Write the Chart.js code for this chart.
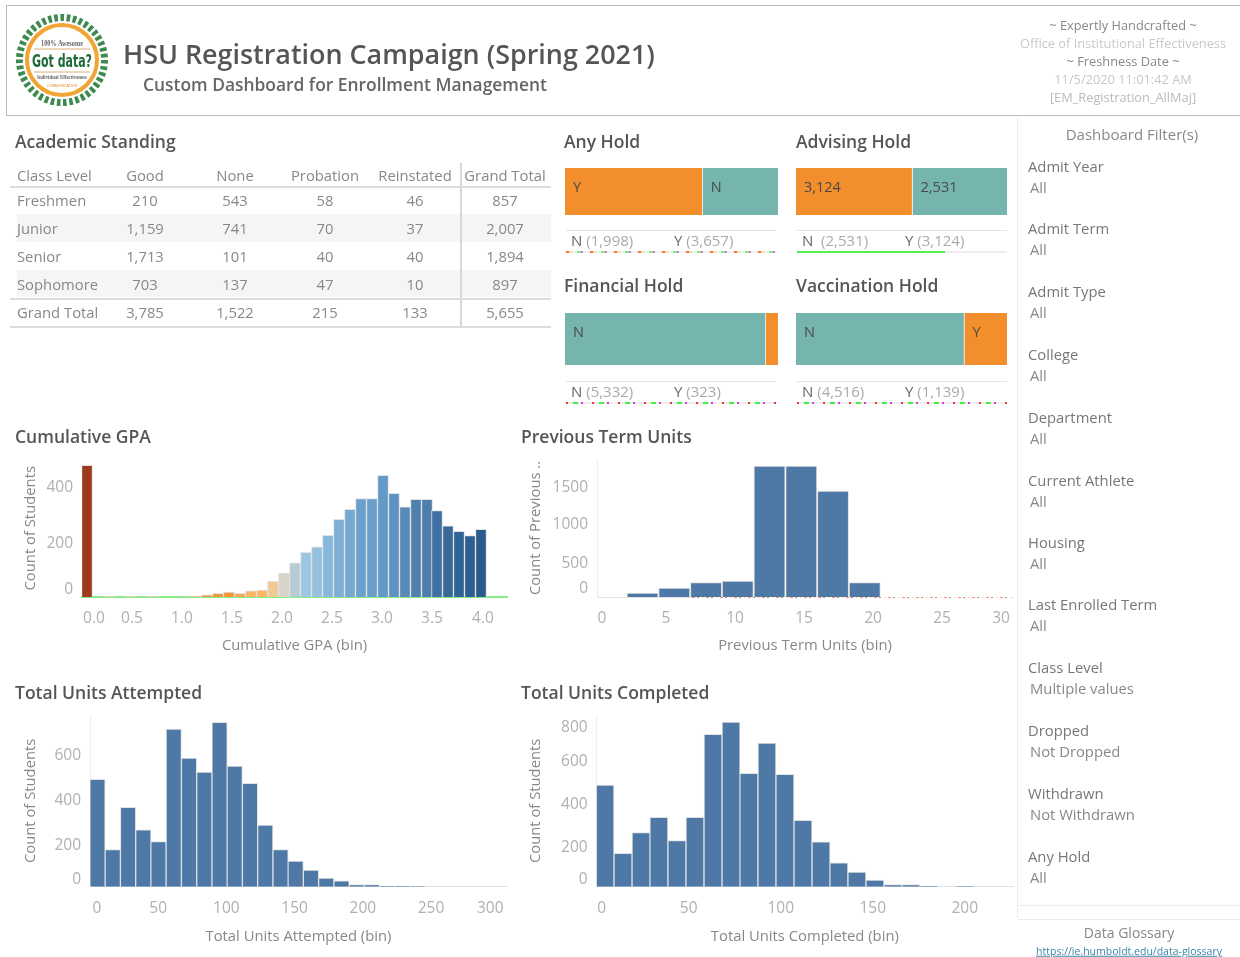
<!DOCTYPE html>
<html><head><meta charset="utf-8">
<script src="https://cdn.jsdelivr.net/npm/chart.js@4"></script>
<style>
html,body{margin:0;padding:0;background:#fff;width:1240px;height:957px;overflow:hidden}
#app{position:relative;width:1240px;height:957px;font-family:"Open Sans",sans-serif;color:#777;filter:blur(.35px)}
#app>*{position:absolute}
.t{white-space:nowrap;line-height:1;transform:translateY(-50%)}
.c{transform:translate(-50%,-50%)}
.h{font-size:17.5px;font-weight:600;color:#555}
.f{font-size:14.8px;color:#777}
.v{font-size:14.8px;color:#888}
.m{font-size:15px;color:#666}.m i{font-style:normal;color:#aaa}
.line{background:#ddd}
canvas{display:block}
</style></head><body><div id="app"></div>
<script>
// ---------- data ----------
const tableColumns=['Class Level','Good','None','Probation','Reinstated','Grand Total'];
const tableFreshmen=['Freshmen','210','543','58','46','857'];
const tableJunior=['Junior','1,159','741','70','37','2,007'];
const tableSenior=['Senior','1,713','101','40','40','1,894'];
const tableSophomore=['Sophomore','703','137','47','10','897'];
const tableTotal=['Grand Total','3,785','1,522','215','133','5,655'];

const holdTotal=5655;
const anyHold=[3657,1998], anyHoldColors=['#f28e2b','#76b4ae'], anyHoldText=['Y','N'];
const advisingHold=[3124,2531], advisingHoldColors=['#f28e2b','#76b4ae'], advisingHoldText=['3,124','2,531'];
const financialHold=[5332,323], financialHoldColors=['#76b4ae','#f28e2b'], financialHoldText=['N',''];
const vaccinationHold=[4516,1139], vaccinationHoldColors=['#76b4ae','#f28e2b'], vaccinationHoldText=['N','Y'];

const gpaBins=[0.05,0.16,0.27,0.38,0.49,0.6,0.71,0.82,0.93,1.04,1.15,1.25,1.36,1.47,1.58,1.69,1.8,1.91,2.02,2.13,2.24,2.35,2.46,2.57,2.68,2.79,2.9,3.01,3.12,3.23,3.34,3.45,3.55,3.66,3.77,3.88,3.99];
const gpaCounts=[479,0,2,0,2,0,2,0,0,1,2,8,13,18,13,22,25,57,87,124,162,182,224,282,319,358,358,442,377,328,355,355,314,259,239,223,246];
const gpaColors=['#9c3a1d','#f5c08a','#f5c08a','#f5c08a','#f5c08a','#f5c08a','#f5c08a','#f5c08a','#f5c08a','#f5c08a','#f5a860','#f4953a','#f4953a','#f4953a','#f8a850','#fbb464','#fbb464','#f0c994','#d6d3c8','#b8ccd6','#9cc6e2','#95c1df','#85b8dc','#7cafd6','#76a9d2','#6ca0cc','#6a9ecb','#6399c7','#5d92c1','#588ab8','#4f80ae','#4e7eab','#3e70a3','#376a9b','#316496','#2e5f92','#2b5b8c'];
const gpaTicks=[0,0.5,1,1.5,2,2.5,3,3.5,4], gpaTickLabels=['0.0','0.5','1.0','1.5','2.0','2.5','3.0','3.5','4.0'];
const gpaYTicks=[0,200,400];

const prevBins=[3.3,5.6,7.9,10.2,12.5,14.8,17.1,19.4];
const prevCounts=[54,122,195,218,1782,1782,1442,195];
const prevTicks=[0,5,10,15,20,25,30];
const prevYTicks=[0,500,1000,1500];

const attemptedBins=[5.5,16.7,27.9,39.1,50.2,61.4,72.6,83.8,95,106.1,117.3,128.5,139.7,150.8,162,173.2,184.4,195.5,206.7,217.9,229,240.2];
const attemptedCounts=[484,167,358,256,203,711,580,517,741,544,466,278,167,116,75,39,26,9,9,3,3,2];
const attemptedTicks=[0,50,100,150,200,250,300];
const attemptedYTicks=[0,200,400,600];

const completedBins=[4.5,14.3,24.1,33.8,43.6,53.4,63.2,73,82.7,92.5,102.3,112.1,121.9,131.6,141.4,151.2,161,170.8,180.5,200.1];
const completedCounts=[484,159,257,330,219,330,725,783,540,683,535,316,213,113,70,32,10,10,3,2];
const completedTicks=[0,50,100,150,200];
const completedYTicks=[0,200,400,600,800];

const filterNames=['Admit Year','Admit Term','Admit Type','College','Department','Current Athlete','Housing','Last Enrolled Term','Class Level','Dropped','Withdrawn','Any Hold'];
const filterValues=['All','All','All','All','All','All','All','All','Multiple values','Not Dropped','Not Withdrawn','All'];

// ---------- helpers ----------
const app=document.getElementById('app');
function text(s,x,y,cls,center,extra){const d=document.createElement('div');d.className='t '+(center?'c ':'')+(cls||'');d.textContent=s;d.style.left=x+'px';d.style.top=y+'px';if(extra)d.style.cssText+=extra;app.appendChild(d);return d}
function box(x,y,w,h,css){const d=document.createElement('div');d.style.cssText=`left:${x}px;top:${y}px;width:${w}px;height:${h}px;${css||'background:#ddd'}`;app.appendChild(d);return d}
function canvasAt(l,t,w,h){const c=document.createElement('canvas');c.width=w;c.height=h;c.style.cssText=`left:${l}px;top:${t}px;width:${w}px;height:${h}px`;app.appendChild(c);return c}
Chart.defaults.font.family='"Open Sans",sans-serif';

function hist(o){
  const {l,r,pl,pt,pr,pb,t,b}=o;
  const c=canvasAt(l,t,r-l,b-t);
  const nudge=(vals,px,pxPerUnit)=>vals.map((v,i)=>({value:v+(px[i]||0)/pxPerUnit}));
  new Chart(c,{type:'bar',
    data:{labels:o.bins,datasets:[{data:o.bins.map((x,i)=>({x,y:o.counts[i]})),backgroundColor:o.colors||'#4e79a7',borderColor:'rgba(222,222,222,.9)',borderWidth:1,barThickness:o.bw,grouped:false}]},
    options:{responsive:false,animation:false,parsing:false,
      layout:{padding:{top:pt-t,right:r-pr,left:0,bottom:0}},
      plugins:{legend:{display:false},tooltip:{enabled:false}},
      scales:{
        x:{type:'linear',min:0,max:o.xMax,offset:false,
          grid:{display:false,drawTicks:false},border:{display:true,color:o.xBorder||'#e2e2e2',width:o.xBorderW||1},
          afterBuildTicks(s){s.ticks=nudge(o.xTicks,o.xNudge||[],(pr-pl)/o.xMax)},
          afterFit(s){s.height=b-pb;s.paddingLeft=0;s.paddingRight=0},
          ticks:{autoSkip:false,maxRotation:0,minRotation:0,padding:o.tickPad,color:'#b0b0b0',font:{size:15.5},callback:(v,i)=>(o.xLabels||o.xTicks)[i]},
          title:{display:true,text:o.xTitle,color:'#888',font:{size:14.8},padding:0}},
        y:{min:0,max:o.yMax,
          grid:{display:false,drawTicks:false},border:{display:!!o.yBorder,color:'#eeeeee',width:1},
          afterBuildTicks(s){s.ticks=nudge(o.yTicks,o.yNudge||[],(pb-pt)/o.yMax)},
          afterFit(s){s.width=pl-l;s.paddingTop=0;s.paddingBottom=0},
          ticks:{autoSkip:false,padding:9,color:'#b0b0b0',font:{size:15.5},callback:(v,i)=>o.yTicks[i]},
          title:{display:true,text:o.yTitle,color:'#888',font:{size:14.8},padding:0}}
      }}});
}
function holdBar(l,t,w,h,vals,cols,txt,lift){
  const c=canvasAt(l,t,w,h);
  new Chart(c,{type:'bar',data:{labels:['Hold'],datasets:vals.map((v,i)=>({data:[v],backgroundColor:cols[i],borderColor:'#eef2f1',borderWidth:{left:0,right:i==0?1:0,top:0,bottom:0},label:txt[i]}))},
    options:{indexAxis:'y',responsive:false,animation:false,layout:{padding:0},
      plugins:{legend:{display:false},tooltip:{enabled:false}},
      datasets:{bar:{barPercentage:1,categoryPercentage:1}},
      scales:{x:{stacked:true,display:false,min:0,max:holdTotal},y:{stacked:true,display:false}}},
    plugins:[{id:'inbar',afterDatasetsDraw(ch){const g=ch.ctx;g.save();g.font='14.5px "Open Sans"';g.fillStyle='#4a4a4a';g.textBaseline='middle';
      ch.data.datasets.forEach((ds,i)=>{const e=ch.getDatasetMeta(i).data[0];if(ds.label)g.fillText(ds.label,e.base+8,e.y-lift)});g.restore()}}]});
}
function holdLegend(x,y,a,b,noise){
  box(x+2,y-11,210,1,'background:#e4e4e4');
  const m=text('',x+7,y-1,'m');m.innerHTML=a;
  const n=text('',x+110,y-1,'m');n.innerHTML=b;
  box(x+2,y+10,210,1.5,noise);
}

// ---------- header ----------
box(6,5,1234,111,'border:1px solid #bdbdbd;border-right:0;box-sizing:border-box');
app.insertAdjacentHTML('beforeend',`<svg style="left:14px;top:12px" width="96" height="96" viewBox="0 0 96 96">
<circle cx="48" cy="48" r="42.5" fill="none" stroke="#3d8a4f" stroke-width="7" stroke-dasharray="3.6 2.6"/>
<circle cx="48" cy="48" r="35" fill="#fff" stroke="#f0a535" stroke-width="4"/>
<line x1="20" y1="37" x2="76" y2="37" stroke="#d8b070" stroke-width="1"/>
<line x1="20" y1="60" x2="76" y2="60" stroke="#d8b070" stroke-width="1"/>
<text x="48" y="33.5" text-anchor="middle" font-size="8" font-weight="700" fill="#666" font-family="Liberation Serif" textLength="42" lengthAdjust="spacingAndGlyphs">100% Awesome</text>
<text x="48" y="55" text-anchor="middle" font-size="18" font-weight="700" fill="#1d6b36" font-family="DejaVu Sans Condensed,Liberation Sans" textLength="60" lengthAdjust="spacingAndGlyphs">Got data?</text>
<text x="48" y="67" text-anchor="middle" font-size="6" font-weight="700" fill="#666" font-family="Liberation Serif" textLength="50" lengthAdjust="spacingAndGlyphs">Individual Effectiveness</text>
<text x="48" y="75" text-anchor="middle" font-size="3.5" fill="#e58a20" font-family="Liberation Sans">COMMUNICATION</text>
</svg>`);
text('HSU Registration Campaign (Spring 2021)',123,53.5,'',0,'font-size:26.9px;font-weight:600;color:#555');
text('Custom Dashboard for Enrollment Management',143,85,'',0,'font-size:17.4px;font-weight:600;color:#666');
[['~ Expertly Handcrafted ~',25,'#888'],['Office of Institutional Effectiveness',43,'#c8c8c8'],['~ Freshness Date ~',61,'#888'],['11/5/2020 11:01:42 AM',79,'#c8c8c8'],['[EM_Registration_AllMaj]',97,'#bbb']].forEach(a=>text(a[0],1123,a[1],'',1,`font-size:12.8px;color:${a[2]}`));

// ---------- table ----------
text('Academic Standing',15,142,'h');
box(17,214,534,28,'background:#f5f5f5');
box(17,270,534,27,'background:#f5f5f5');
const colX=[17,145,235,325,415,505], rowsY=[175,200,228,256,284,312];
[tableColumns,tableFreshmen,tableJunior,tableSenior,tableSophomore,tableTotal].forEach((row,ri)=>row.forEach((s,ci)=>{
  if(ci==0)text(s,colX[0],rowsY[ri],'',0,'font-size:14.8px;color:#888');else text(s,colX[ci],rowsY[ri],'',1,'font-size:14.8px;color:#888');
}));
box(10,186,541,1.5,'background:#dcdcdc');
box(10,298,541,1.5,'background:#dcdcdc');
box(10,326,541,1.5,'background:#dcdcdc');
box(460,163,1.5,164,'background:#d8d8d8');

// ---------- holds ----------
text('Any Hold',564,142,'h');text('Advising Hold',796,142,'h');
text('Financial Hold',564,286,'h');text('Vaccination Hold',796,286,'h');
holdBar(565,168,213,47,anyHold,anyHoldColors,anyHoldText,3.5);
holdBar(796,168,211,47,advisingHold,advisingHoldColors,advisingHoldText,3.5);
holdBar(565,313,213,52,financialHold,financialHoldColors,financialHoldText,6);
holdBar(796,313,211,52,vaccinationHold,vaccinationHoldColors,vaccinationHoldText,6);
const specks='background:repeating-linear-gradient(90deg,#f66 0 3px,#fd8 3px 6px,#eee 6px 11px,#7e7 11px 15px,#e6e 15px 17px,#eee 17px 24px)';
const lightSpecks='background:repeating-linear-gradient(90deg,#e33 0 2px,#eee 2px 7px,#4e4 7px 12px,#eee 12px 15px,#d3d 15px 17px,#eee 17px 26px)';
holdLegend(564,241,'N <i>(1,998)</i>','Y <i>(3,657)</i>',specks);
holdLegend(795,241,'N &nbsp;<i>(2,531)</i>','Y <i>(3,124)</i>','background:linear-gradient(90deg,#55ee55 0 148px,#eee 148px 210px)');
holdLegend(564,392,'N <i>(5,332)</i>','Y <i>(323)</i>',lightSpecks);
holdLegend(795,392,'N <i>(4,516)</i>','Y <i>(1,139)</i>',lightSpecks);

// ---------- histograms ----------
text('Cumulative GPA',15,437,'h');text('Previous Term Units',521,437,'h');
text('Total Units Attempted',15,693,'h');text('Total Units Completed',521,693,'h');
hist({l:22,r:510,pl:82,pr:507,t:450,pt:459.5,pb:597,b:655,tickPad:12,bins:gpaBins,counts:gpaCounts,colors:gpaColors,bw:11,xMax:4.25,xTicks:gpaTicks,xLabels:gpaTickLabels,xNudge:[12,0,0,0,0,0,0,0,1],yMax:500,yTicks:gpaYTicks,yNudge:[7,-2,-1],xTitle:'Cumulative GPA (bin)',yTitle:'Count of Students',xBorder:'#86ee86',xBorderW:2});
hist({l:527,r:1015,pl:597,pr:1013,t:450,pt:459,pb:597,b:655,tickPad:12,bins:prevBins,counts:prevCounts,bw:31.2,xMax:30.14,xTicks:prevTicks,xNudge:[5,0,0,0,0,0,-10],yMax:1878,yTicks:prevYTicks,yNudge:[8,-3,-1,-1],xTitle:'Previous Term Units (bin)',yTitle:'Count of Previous ..',yBorder:true});
hist({l:22,r:510,pl:90,pr:507,t:705,pt:715,pb:886.7,b:946,tickPad:13,bins:attemptedBins,counts:attemptedCounts,bw:15.3,xMax:305.7,xTicks:attemptedTicks,xNudge:[7,0,0,0,0,0,-9],yMax:774,yTicks:attemptedYTicks,yNudge:[7,-3,-3,-2],xTitle:'Total Units Attempted (bin)',yTitle:'Count of Students',yBorder:true});
hist({l:527,r:1015,pl:596.7,pr:1013,t:705,pt:715,pb:886.7,b:946,tickPad:13,bins:completedBins,counts:completedCounts,bw:18,xMax:226.2,xTicks:completedTicks,xNudge:[5],yMax:817,yTicks:completedYTicks,yNudge:[7,-3,-2,-1,-9],xTitle:'Total Units Completed (bin)',yTitle:'Count of Students',yBorder:true});
box(692,596.5,321,1.5,'background:repeating-linear-gradient(90deg,#f88 0 3px,#fff 3px 5px,#999 5px 7px,#fff 7px 10px,#fd9 10px 12px,#fff 12px 14px)');

// ---------- filter panel ----------
box(1017,118,1,800,'background:#ececec');
text('Dashboard Filter(s)',1132,134,'',1,'font-size:15px;color:#888');
const filterY=[166,228,291,354,417,480,542,604,667,730,793,856];
filterNames.forEach((n,i)=>{text(n,1028,filterY[i],'f');text(filterValues[i],1030,filterY[i]+21,'v');});
box(1018,905,222,1,'background:#ececec');box(1018,919,222,1,'background:#ececec');
text('Data Glossary',1129,933,'',1,'font-size:14px;color:#888');
text('https://ie.humboldt.edu/data-glossary',1129,951,'',1,'font-size:10.5px;color:#3f86a8;text-decoration:underline');
</script></body></html>
